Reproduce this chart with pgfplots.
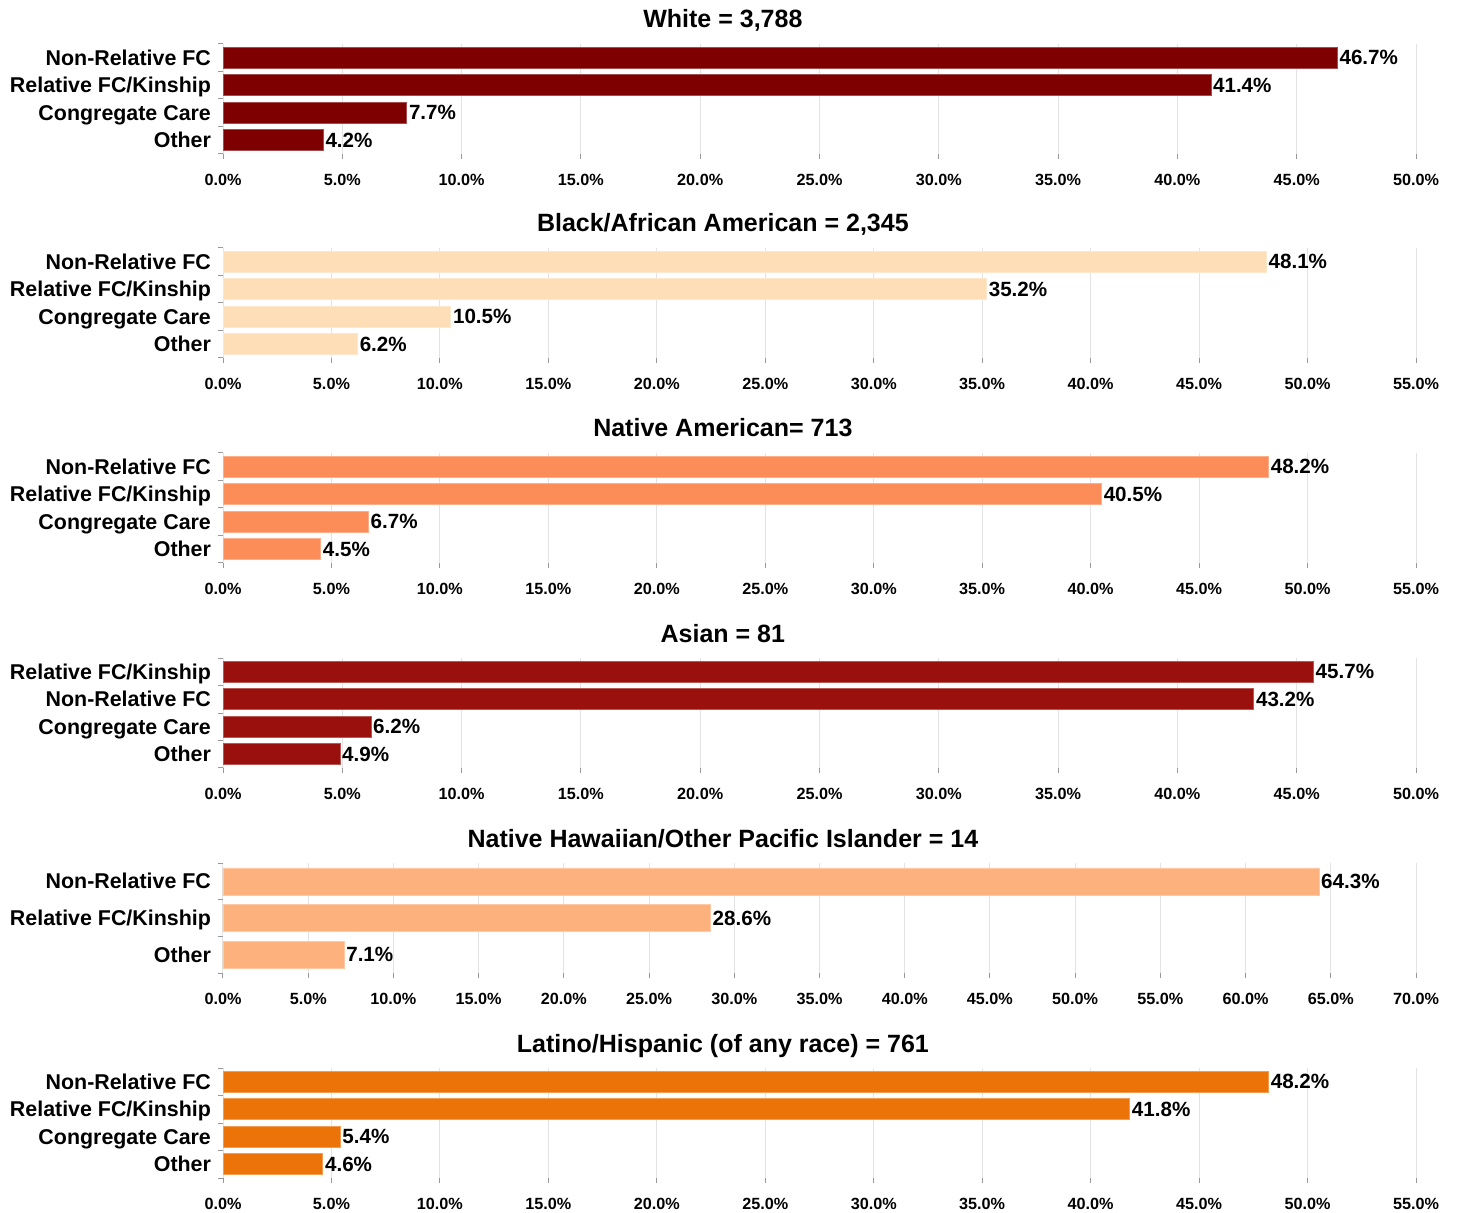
\documentclass[border=0pt]{standalone}
\usepackage{fontspec}
\setmainfont{Liberation Sans}
\usepackage{pgfplots}
\pgfplotsset{compat=1.18}
\definecolor{cA}{HTML}{7F0000}
\definecolor{cB}{HTML}{FDDEB7}
\definecolor{cC}{HTML}{FC8D59}
\definecolor{cD}{HTML}{99100C}
\definecolor{cE}{HTML}{FDB27D}
\definecolor{cF}{HTML}{EC7307}
\pgfplotsset{
  /pgf/number format/assume math mode=true,
  panel/.style={
    scale only axis, width=596.5pt, height=55pt,
    anchor=north west,
    xbar, bar width=10.5pt,
    xmin=0, ymin=-0.5, ymax=3.5, y dir=reverse,
    axis line style={draw=none},
    tick pos=left, tick align=outside,
    major tick length=2.5pt,
    tick style={draw=gray!80, line width=0.5pt},
    xmajorgrids, grid style={draw=gray!22, line width=0.5pt},
    xticklabel={\pgfmathprintnumber[fixed,fixed zerofill,precision=1]{\tick}\%},
    xticklabel style={font=\bfseries\fontsize{8.1}{9}\selectfont, yshift=-4pt},
    yticklabel style={font=\bfseries\fontsize{10.7}{12}\selectfont, anchor=base east, yshift=-3.8pt},
    ytick={-0.5,0.5,1.5,2.5,3.5},
    yticklabels={,,,,,},
    extra y ticks={0,1,2,3},
    extra y tick style={tick style={draw=none}},
    title style={at={(0.419,1)}, anchor=base, yshift=2pt, font=\bfseries\fontsize{12.5}{14}\selectfont},
    point meta=x,
    nodes near coords={\pgfmathprintnumber[fixed,fixed zerofill,precision=1]{\pgfplotspointmeta}\%},
    every node near coord/.append style={font=\bfseries\fontsize{10.3}{12}\selectfont, inner sep=1pt, anchor=west, black},
  },
}
\begin{document}
\begin{tikzpicture}
\useasboundingbox (0,0) rectangle (728.5pt,606pt);
% Panel 1
\begin{axis}[panel, at={(111.5pt,584pt)}, xmax=50, xtick={0,5,...,50},
  title={White = 3,788},
  extra y tick labels={Non-Relative FC,Relative FC/Kinship,Congregate Care,Other}]
\addplot[fill=cA, draw=cA!70!white, line width=0.3pt] coordinates {(46.7,0) (41.4,1) (7.7,2) (4.2,3)};
\end{axis}
% Panel 2
\begin{axis}[panel, at={(111.5pt,482pt)}, xmax=55, xtick={0,5,...,55},
  title={Black/African American = 2,345},
  extra y tick labels={Non-Relative FC,Relative FC/Kinship,Congregate Care,Other}]
\addplot[fill=cB, draw=cB!70!white, line width=0.3pt] coordinates {(48.1,0) (35.2,1) (10.5,2) (6.2,3)};
\end{axis}
% Panel 3
\begin{axis}[panel, at={(111.5pt,379.5pt)}, xmax=55, xtick={0,5,...,55},
  title={Native American= 713},
  extra y tick labels={Non-Relative FC,Relative FC/Kinship,Congregate Care,Other}]
\addplot[fill=cC, draw=cC!70!white, line width=0.3pt] coordinates {(48.2,0) (40.5,1) (6.7,2) (4.5,3)};
\end{axis}
% Panel 4
\begin{axis}[panel, at={(111.5pt,277pt)}, xmax=50, xtick={0,5,...,50},
  title={Asian = 81},
  extra y tick labels={Relative FC/Kinship,Non-Relative FC,Congregate Care,Other}]
\addplot[fill=cD, draw=cD!70!white, line width=0.3pt] coordinates {(45.7,0) (43.2,1) (6.2,2) (4.9,3)};
\end{axis}
% Panel 5
\begin{axis}[panel, at={(111.5pt,174.5pt)}, xmax=70, xtick={0,5,...,70},
  ymax=2.5, ytick={-0.5,0.5,1.5,2.5}, yticklabels={,,,,},
  extra y ticks={0,1,2}, bar width=13.5pt,
  title={Native Hawaiian/Other Pacific Islander = 14},
  extra y tick labels={Non-Relative FC,Relative FC/Kinship,Other}]
\addplot[fill=cE, draw=cE!70!white, line width=0.3pt] coordinates {(64.3,0) (28.6,1) (7.1,2)};
\end{axis}
% Panel 6
\begin{axis}[panel, at={(111.5pt,72pt)}, xmax=55, xtick={0,5,...,55},
  title={Latino/Hispanic (of any race) = 761},
  extra y tick labels={Non-Relative FC,Relative FC/Kinship,Congregate Care,Other}]
\addplot[fill=cF, draw=cF!70!white, line width=0.3pt] coordinates {(48.2,0) (41.8,1) (5.4,2) (4.6,3)};
\end{axis}
\end{tikzpicture}
\end{document}
